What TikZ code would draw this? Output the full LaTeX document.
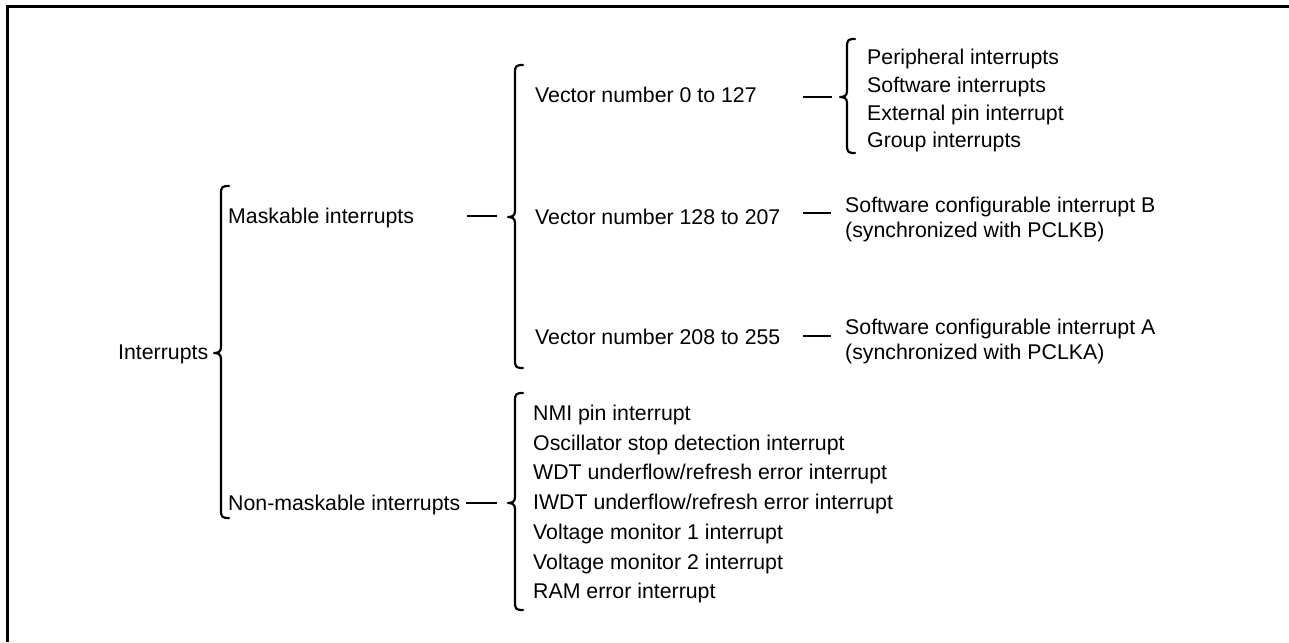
\documentclass[tikz,border=0pt]{standalone}
\usepackage{fontspec}
\setmainfont{Liberation Sans}
\newcommand\drawbrace[4]{% x, top, mid, bottom
  \draw[brc] ({#1+8},#2) .. controls ({#1+1},#2) and (#1,{#2+1}) .. (#1,{#2+8})
    -- (#1,{#3-6}) .. controls (#1,{#3-1}) and ({#1-3},#3) .. ({#1-7},#3)
    .. controls ({#1-3},#3) and (#1,{#3+1}) .. (#1,{#3+6})
    -- (#1,{#4-8}) .. controls (#1,{#4-1}) and ({#1+1},#4) .. ({#1+8},#4);}
\begin{document}
\begin{tikzpicture}[x=1pt,y=-1pt,
  lbl/.style={anchor=base west, inner sep=0pt, font=\fontsize{21.3}{25}\selectfont},
  wire/.style={line width=1.8pt},
  brc/.style={line width=2.2pt, line cap=round, line join=round},
  frame/.style={line width=3pt}]
\useasboundingbox (0,0) rectangle (1289,642);
% frame
\draw[frame] (7.5,642) -- (7.5,6.5) -- (1289,6.5);

% texts (base = visual centre + 7.5)
\node[lbl] (int) at (118,359.5) {Interrupts};
\node[lbl] (mask) at (228,223.5) {Maskable interrupts};
\node[lbl] (nmask) at (228,510.5) {Non-maskable interrupts};

\node[lbl] (v0) at (535,102.5) {Vector number 0 to 127};
\node[lbl] (v128) at (535,224.5) {Vector number 128 to 207};
\node[lbl] (v208) at (535,344.5) {Vector number 208 to 255};

\node[lbl] (p1) at (867,64.5) {Peripheral interrupts};
\node[lbl] (p2) at (867,92.5) {Software interrupts};
\node[lbl] (p3) at (867,120.5) {External pin interrupt};
\node[lbl] (p4) at (867,147.5) {Group interrupts};

\node[lbl] (sb1) at (845,212.5) {Software configurable interrupt B};
\node[lbl] (sb2) at (845,237.5) {(synchronized with PCLKB)};
\node[lbl] (sa1) at (845,334.5) {Software configurable interrupt A};
\node[lbl] (sa2) at (845,359.5) {(synchronized with PCLKA)};

\node[lbl] (n1) at (533,420.5) {NMI pin interrupt};
\node[lbl] (n2) at (533,450.2) {Oscillator stop detection interrupt};
\node[lbl] (n3) at (533,479.9) {WDT underflow/refresh error interrupt};
\node[lbl] (n4) at (533,509.6) {IWDT underflow/refresh error interrupt};
\node[lbl] (n5) at (533,539.3) {Voltage monitor 1 interrupt};
\node[lbl] (n6) at (533,569.0) {Voltage monitor 2 interrupt};
\node[lbl] (n7) at (533,598.7) {RAM error interrupt};

% braces
\drawbrace{221}{186}{353}{518}
\drawbrace{515}{65}{217}{368}
\drawbrace{847}{39}{97}{153}
\drawbrace{515}{393}{503}{610}

% connector end points
\coordinate (ma) at (467,216);  \coordinate (mb) at (497,216);
\coordinate (na) at (466,503);  \coordinate (nb) at (497,503);
\coordinate (va) at (803,97);   \coordinate (vb) at (832,97);
\coordinate (wa) at (803,213);  \coordinate (wb) at (831,213);
\coordinate (xa) at (803,336);  \coordinate (xb) at (831,336);

\draw[wire] (ma) -- (mb);
\draw[wire] (na) -- (nb);
\draw[wire] (va) -- (vb);
\draw[wire] (wa) -- (wb);
\draw[wire] (xa) -- (xb);
\end{tikzpicture}
\end{document}
